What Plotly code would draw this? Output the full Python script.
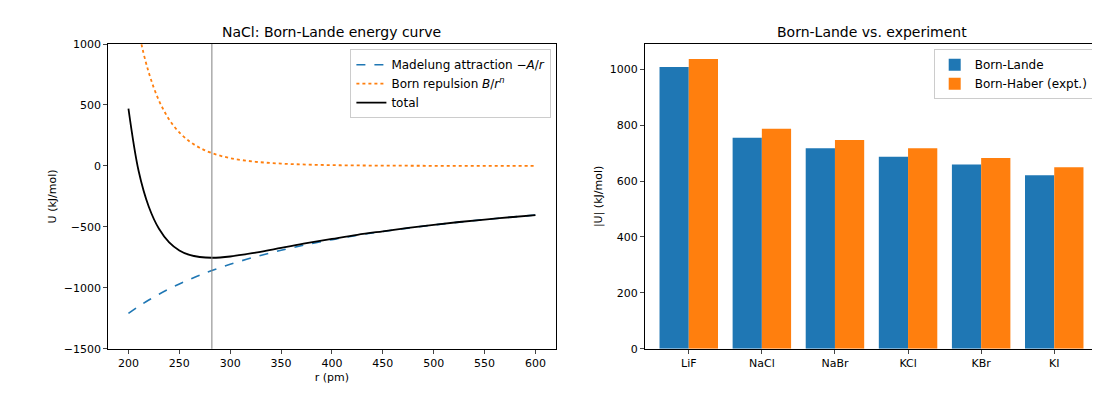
import plotly.graph_objects as go

r_pm = [200, 210, 220, 230, 240, 250, 260, 270, 282, 300, 325, 350, 375, 400, 425, 450, 475, 500, 525, 550, 575, 600]
attraction = [-1210, -1152, -1100, -1052, -1008, -968, -931, -896, -858, -807, -745, -692, -645, -605, -569, -538, -510, -484, -461, -440, -421, -403]
repulsion = [1680, 1110, 765, 536, 381, 275, 201, 149, 105, 64, 34, 19, 11, 6.4, 3.9, 2.4, 1.6, 1.0, 0.7, 0.5, 0.3, 0.2]
total = [470, -42, -335, -516, -627, -693, -730, -747, -753, -743, -711, -673, -634, -599, -565, -536, -508, -483, -460, -440, -421, -403]
r0 = 282

salts = ["LiF", "NaCl", "NaBr", "KCl", "KBr", "KI"]
born_lande = [1008, 755, 717, 687, 659, 621]
born_haber = [1036, 787, 747, 717, 682, 649]

blue, orange = "#1f77b4", "#ff7f0e"
fig = go.Figure()
fig.add_trace(go.Scatter(x=r_pm, y=attraction, mode="lines", line=dict(color=blue, dash="dash", width=1.6, shape="spline"),
                         name="Madelung attraction −<i>A</i>/<i>r</i>", xaxis="x", yaxis="y", legend="legend"))
fig.add_trace(go.Scatter(x=r_pm, y=repulsion, mode="lines", line=dict(color=orange, dash="dot", width=1.8, shape="spline"),
                         name="Born repulsion <i>B</i>/<i>r</i><sup><i>n</i></sup>", xaxis="x", yaxis="y", legend="legend"))
fig.add_trace(go.Scatter(x=r_pm, y=total, mode="lines", line=dict(color="black", width=1.8, shape="spline"),
                         name="total", xaxis="x", yaxis="y", legend="legend"))
fig.add_trace(go.Bar(x=salts, y=born_lande, name="Born-Lande", marker=dict(color=blue, line=dict(width=0)),
                     xaxis="x2", yaxis="y2", legend="legend2"))
fig.add_trace(go.Bar(x=salts, y=born_haber, name="Born-Haber (expt.)", marker=dict(color=orange, line=dict(width=0)),
                     xaxis="x2", yaxis="y2", legend="legend2"))

fig.add_shape(type="line", x0=r0, x1=r0, y0=0, y1=1, xref="x", yref="y domain", line=dict(color="gray", width=1))

ax = dict(showline=True, linecolor="black", mirror=True, ticks="outside", ticklen=4, showgrid=False, zeroline=False,
          tickfont=dict(size=11, color="black"), automargin=False)
tf = dict(size=11)
fig.update_layout(
    width=1100, height=400, plot_bgcolor="white", paper_bgcolor="white",
    font=dict(family="DejaVu Sans", size=11, color="black"),
    margin=dict(l=0, r=0, t=0, b=0), barmode="group", bargap=0.2, bargroupgap=0,
    xaxis=dict(domain=[0.091, 0.498], range=[180, 620], tickvals=list(range(200, 601, 50)),
               title=dict(text="r (pm)", standoff=4, font=tf), anchor="y", **ax),
    yaxis=dict(domain=[0.148, 0.91], range=[-1500, 1000], dtick=500, tickformat="d",
               title=dict(text="U (kJ/mol)", standoff=4, font=tf), anchor="x", **ax),
    xaxis2=dict(domain=[0.579, 0.991], range=[-0.6, 5.6], anchor="y2", **ax),
    yaxis2=dict(domain=[0.148, 0.91], range=[0, 1090], dtick=200,
                title=dict(text="|U| (kJ/mol)", standoff=4, font=tf), anchor="x2", **ax),
    legend=dict(x=0.494, y=0.897, xanchor="right", yanchor="top", bordercolor="#cccccc", borderwidth=1,
                bgcolor="rgba(255,255,255,0.8)", font=dict(size=12), tracegroupgap=0),
    legend2=dict(x=0.987, y=0.897, xanchor="right", yanchor="top", bordercolor="#cccccc", borderwidth=1,
                 bgcolor="rgba(255,255,255,0.8)", font=dict(size=12), tracegroupgap=0),
    annotations=[
        dict(text="NaCl: Born-Lande energy curve", x=0.2945, y=0.915, xref="paper", yref="paper",
             xanchor="center", yanchor="bottom", showarrow=False, font=dict(size=14)),
        dict(text="Born-Lande vs. experiment", x=0.785, y=0.915, xref="paper", yref="paper",
             xanchor="center", yanchor="bottom", showarrow=False, font=dict(size=14)),
    ],
)
fig.write_html("out.html")
